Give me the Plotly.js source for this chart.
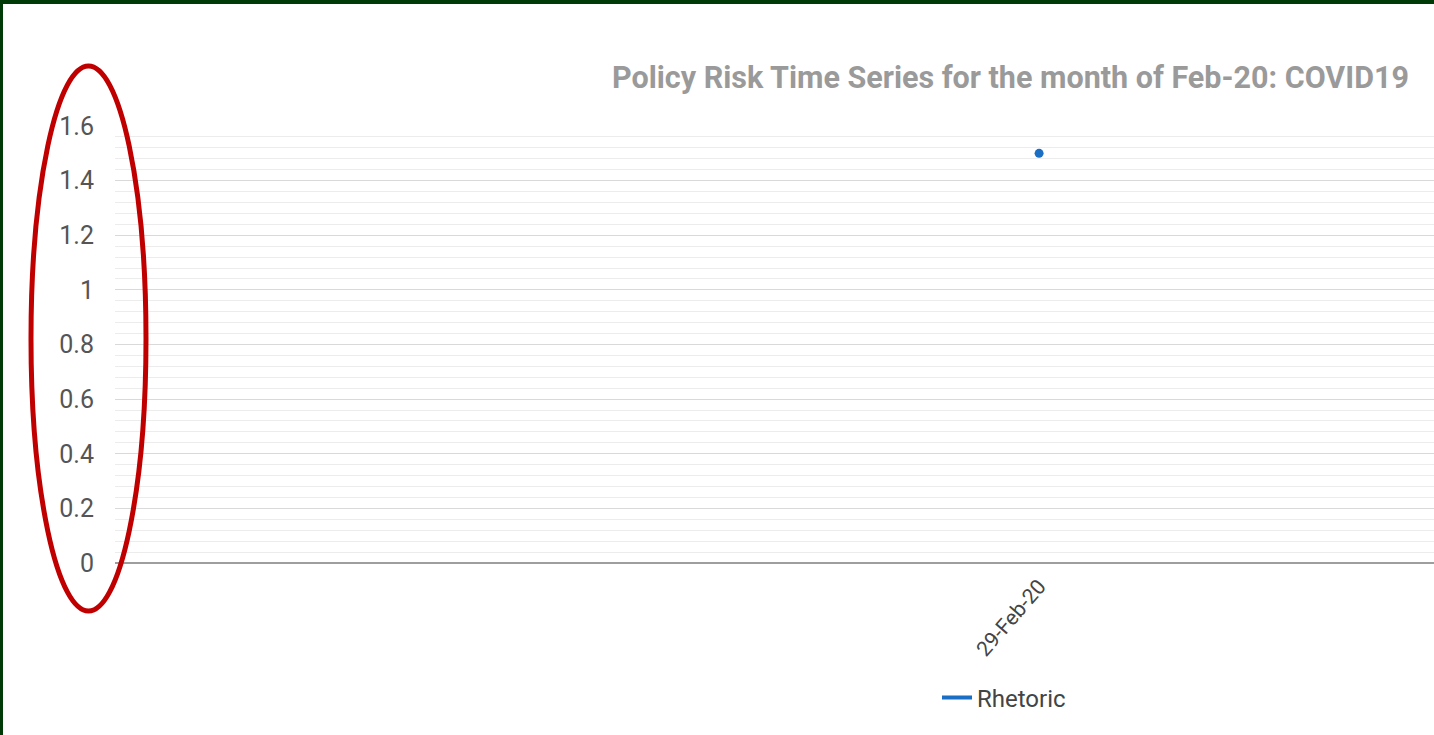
<!DOCTYPE html>
<html>
<head>
<meta charset="utf-8">
<script src="https://cdn.plot.ly/plotly-3.0.1.min.js"></script>
<style>
html,body{margin:0;padding:0;background:#fff;}
#wrap{position:relative;width:1434px;height:735px;overflow:hidden;}
#chart{position:absolute;left:0;top:0;width:1434px;height:735px;}
.bt{position:absolute;left:0;top:0;width:1434px;height:4px;background:#003a06;}
.bl{position:absolute;left:0;top:0;width:3px;height:735px;background:#003a06;}
</style>
</head>
<body>
<div id="wrap">
<div id="chart"></div>
<div class="bt"></div>
<div class="bl"></div>
</div>
<script>
// Data
const dates = ["29-Feb-20"];
const rhetoric = [1.5];
const seriesName = "Rhetoric";
const chartTitle = "Policy Risk Time Series for the month of Feb-20: COVID19";

const W = 1434, H = 735;
const ml = 115, mr = 0, mt = 126, mb = 172;
const pw = W - ml - mr, ph = H - mt - mb;
const px = x => (x - ml) / pw;
const py = y => (H - mb - y) / ph;

const blue = '#1a6fc4';
const pointTrace = {
  x: dates, y: rhetoric, name: seriesName, type: 'scatter', mode: 'markers',
  marker: {color: blue, size: 9}, showlegend: false
};
const lineTrace = {
  x: dates, y: rhetoric, name: seriesName, type: 'scatter', mode: 'lines',
  line: {color: blue, width: 4}, showlegend: true
};

const layout = {
  width: W, height: H,
  margin: {l: ml, r: mr, t: mt, b: mb},
  paper_bgcolor: '#fff', plot_bgcolor: '#fff',
  font: {family: 'Roboto, Arial, sans-serif', color: '#555'},
  title: {
    text: '<b>' + chartTitle + '</b>',
    font: {family: 'Roboto, Arial, sans-serif', size: 30.5, color: '#9a9a9a'},
    x: px(1409), xref: 'paper', xanchor: 'right',
    y: 1 - 77 / H, yref: 'container', yanchor: 'middle'
  },
  xaxis: {
    type: 'category', range: [-2.34, 1.0],
    tickangle: -49, ticks: '', showgrid: false, zeroline: false,
    showline: false, ticklabelstandoff: 6,
    tickfont: {size: 21, color: '#444'},
    fixedrange: true
  },
  yaxis: {
    range: [0, 1.6], dtick: 0.2, tick0: 0,
    tickfont: {size: 25, color: '#555'},
    ticks: '', ticklabelstandoff: 20,
    showgrid: true, gridcolor: '#d9d9d9', gridwidth: 1,
    minor: {dtick: 0.04, showgrid: true, gridcolor: '#ececec', gridwidth: 1},
    zeroline: true, zerolinecolor: '#9e9e9e', zerolinewidth: 2,
    showline: false, fixedrange: true
  },
  showlegend: true,
  legend: {
    orientation: 'h', x: px(937), xanchor: 'left', y: py(698), yanchor: 'middle',
    font: {size: 24, color: '#444'}, bgcolor: 'rgba(0,0,0,0)'
  },
  shapes: [{
    type: 'circle', xref: 'paper', yref: 'paper',
    x0: px(31), x1: px(146), y0: py(611), y1: py(66),
    line: {color: '#c00000', width: 5}
  }]
};

Plotly.newPlot('chart', [pointTrace, lineTrace], layout, {displayModeBar: false, staticPlot: true});
</script>
</body>
</html>
